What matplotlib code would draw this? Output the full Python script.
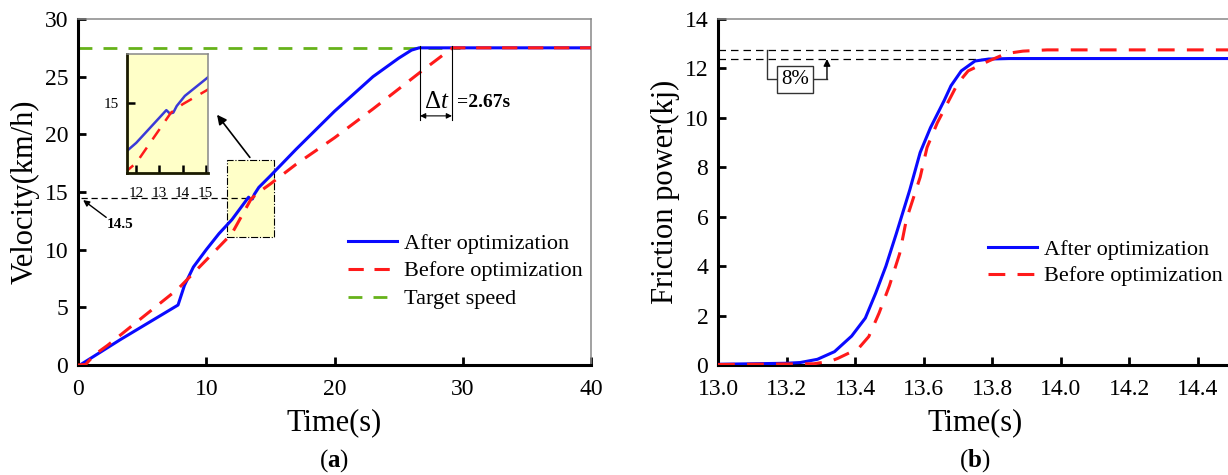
import numpy as np
import matplotlib
matplotlib.use('Agg')
import matplotlib.pyplot as plt
from matplotlib.patches import Rectangle

plt.rcParams['font.family'] = ['Liberation Serif', 'DejaVu Serif']
plt.rcParams['mathtext.fontset'] = 'custom'
plt.rcParams['mathtext.rm'] = 'Liberation Serif'
plt.rcParams['mathtext.it'] = 'Liberation Serif:italic'
plt.rcParams['mathtext.bf'] = 'Liberation Serif:bold'

# (a) velocity
t_after = [0.3, 3.3, 7.8, 8.3, 9.0, 10.0, 11.0, 12.0, 13.0, 13.3, 13.45, 13.6, 13.75,
           14.1, 15.0, 17.0, 20.0, 23.0, 25.0, 26.0, 26.6, 40.0]
v_after = [0.1, 2.2, 5.2, 6.9, 8.5, 10.0, 11.4, 12.6, 14.1, 14.55, 14.35, 14.4, 14.8,
           15.4, 16.4, 18.7, 22.0, 25.0, 26.6, 27.3, 27.5, 27.5]
t_before = [0.0, 0.6, 1.3, 2.3, 7.8, 10.0, 12.0, 13.0, 13.5, 14.0, 15.0, 17.0, 20.0,
            23.0, 26.7, 29.2, 40.0]
v_before = [0.0, 0.05, 0.9, 1.7, 6.6, 9.1, 11.4, 13.4, 14.4, 14.9, 15.7, 17.4, 19.7,
            22.2, 25.4, 27.5, 27.5]
target_speed = 27.5
t_target = [0.0, 29.8]
v_mark = 14.5
dt_left, dt_right = 26.67, 29.16
dt_label = '=2.67s'

# (b) friction power
t2_after = [13.0, 13.2, 13.24, 13.29, 13.34, 13.39, 13.43, 13.46, 13.49, 13.52, 13.56,
            13.59, 13.62, 13.66, 13.68, 13.71, 13.75, 13.79, 13.85, 14.5]
p_after = [0.03, 0.07, 0.1, 0.23, 0.54, 1.17, 1.9, 2.9, 4.0, 5.3, 7.1,
           8.6, 9.6, 10.7, 11.3, 11.9, 12.3, 12.38, 12.4, 12.4]
t2_before = [13.0, 13.28, 13.33, 13.35, 13.41, 13.44, 13.47, 13.50, 13.53, 13.55, 13.59,
             13.61, 13.64, 13.67, 13.70, 13.73, 13.76, 13.79, 13.84, 13.89, 13.96, 14.5]
p_before = [0.02, 0.05, 0.16, 0.27, 0.67, 1.15, 2.1, 3.2, 4.5, 5.9, 7.6,
            8.8, 9.8, 10.6, 11.4, 11.9, 12.1, 12.3, 12.6, 12.7, 12.75, 12.75]
p_hi, p_lo = 12.73, 12.38

BLUE = '#0a0aff'
RED = '#ff1a1a'
GREEN = '#66b21a'
YELLOW = '#ffffc8'

W, H = 1228, 475
fig = plt.figure(figsize=(W / 100, H / 100), dpi=100)


def px(l, t, r, b):
    return [l / W, 1 - b / H, (r - l) / W, (b - t) / H]


def style_axes(ax, lw_main=2.2, tick_size=17):
    for s in ['left', 'bottom']:
        ax.spines[s].set_linewidth(lw_main)
        ax.spines[s].set_color('k')
    for s in ['top', 'right']:
        ax.spines[s].set_linewidth(1.1)
        ax.spines[s].set_color('#888888')
    ax.tick_params(direction='in', length=6, width=2, labelsize=tick_size,
                   top=False, right=False)
    ax.tick_params(axis='x', pad=10)
    ax.tick_params(axis='y', pad=7)


# ---------- panel (a)
ax1 = fig.add_axes(px(78, 19, 591, 365))
ax1.set_xlim(0, 40)
ax1.set_ylim(0, 30)
ax1.set_xticks([0, 10, 20, 30, 40])
ax1.set_yticks([0, 5, 10, 15, 20, 25, 30])
style_axes(ax1)

ax1.add_patch(Rectangle((11.6, 11.1), 3.7, 6.7, facecolor=YELLOW, edgecolor='k',
                        linestyle='-.', lw=0.8, zorder=1))
ax1.plot(t_target, [target_speed] * 2, color=GREEN, lw=2, dashes=(5, 4), zorder=2,
         label='Target speed')
ax1.plot(t_after, v_after, color=BLUE, lw=2.2, zorder=3, label='After optimization')
ax1.plot(t_before, v_before, color=RED, lw=2.2, dashes=(5, 3.5), zorder=4,
         label='Before optimization')

ax1.plot([0.2, 13.6], [v_mark - 0.05] * 2, color='k', lw=0.9, dashes=(5, 3), zorder=2)
ax1.annotate('', xy=(0.4, 14.3), xytext=(2.2, 12.8),
             arrowprops=dict(arrowstyle='-|>', color='k', lw=1, mutation_scale=9,
                             shrinkA=0, shrinkB=0))
ax1.text(3.3, 12.2, str(v_mark), fontsize=11, fontweight='bold', ha='center', va='center')

for x in [dt_left, dt_right]:
    ax1.plot([x, x], [21.2, 27.7], color='k', lw=0.8, zorder=5)
ax1.annotate('', xy=(dt_left, 21.6), xytext=(dt_right, 21.6),
             arrowprops=dict(arrowstyle='<|-|>', color='k', lw=0.8, mutation_scale=8,
                             shrinkA=0, shrinkB=0))
ax1.text(27.95, 22.8, r'$\Delta t$', fontsize=18, ha='center', va='center')
ax1.text(29.55, 22.8, dt_label, fontsize=14, fontweight='bold', ha='left', va='center')

ax1.annotate('', xy=(10.84, 21.7), xytext=(13.4, 18.0),
             arrowprops=dict(arrowstyle='-|>', color='k', lw=1.2, mutation_scale=14,
                             shrinkA=0, shrinkB=0))

ax1.set_xlabel('Time(s)', fontsize=22)
ax1.set_ylabel('Velocity(km/h)', fontsize=22)
ax1.xaxis.set_label_coords(0.5, -0.125)
ax1.yaxis.set_label_coords(-0.075, 0.5)

h, l = ax1.get_legend_handles_labels()
order = [1, 2, 0]
fig.legend([h[i] for i in order], [l[i] for i in order], loc='upper left',
           bbox_to_anchor=(348 / W, 1 - 233 / H), frameon=False, fontsize=16,
           handlelength=2.2, handletextpad=0.3, labelspacing=0.33,
           borderpad=0, borderaxespad=0)

# inset
axi = fig.add_axes(px(127, 54, 208, 173))
axi.set_facecolor(YELLOW)
axi.set_xlim(11.6, 15.1)
axi.set_ylim(10.8, 17.9)
axi.plot(t_after, v_after, color='#3a3ad8', lw=1.8)
axi.plot(t_before, v_before, color=RED, lw=1.8, dashes=(5, 4))
axi.set_xticks([12, 13, 14, 15])
axi.set_yticks([15])
for s in ['left', 'bottom']:
    axi.spines[s].set_linewidth(2)
    axi.spines[s].set_color('#1a1a00')
for s in ['top', 'right']:
    axi.spines[s].set_linewidth(1.1)
    axi.spines[s].set_color('#888888')
axi.tick_params(direction='in', length=6, width=1.8, labelsize=11, top=False, right=False)
axi.tick_params(axis='x', pad=10)
axi.tick_params(axis='y', pad=6)

fig.text(334 / W, 1 - 461 / H, r'($\mathbf{a}$)', fontsize=18, ha='center', va='center')

# ---------- panel (b)
ax2 = fig.add_axes(px(718, 19, 1232, 365))
ax2.set_xlim(13.0, 14.5)
ax2.set_ylim(0, 14)
ax2.set_xticks([13.0, 13.2, 13.4, 13.6, 13.8, 14.0, 14.2, 14.4])
ax2.set_xticklabels(['%.1f' % v for v in ax2.get_xticks()])
ax2.set_yticks([0, 2, 4, 6, 8, 10, 12, 14])
style_axes(ax2)

ax2.plot([13.0, 13.84], [p_hi, p_hi], color='k', lw=0.9, dashes=(6, 4), zorder=2)
ax2.plot([13.0, 13.80], [p_lo, p_lo], color='k', lw=0.9, dashes=(6, 4), zorder=2)
ax2.plot(t2_after, p_after, color=BLUE, lw=2.2, zorder=3, label='After optimization')
ax2.plot(t2_before, p_before, color=RED, lw=2.2, dashes=(5.5, 4), zorder=4,
         label='Before optimization')

ax2.plot([13.142, 13.142, 13.2], [p_hi, 11.58, 11.58], color='#333333', lw=1, zorder=5)
ax2.plot([13.25, 13.318], [11.58, 11.58], color='#333333', lw=1, zorder=5)
ax2.annotate('', xy=(13.318, p_lo), xytext=(13.318, 11.58),
             arrowprops=dict(arrowstyle='-|>', color='k', lw=1, mutation_scale=10,
                             shrinkA=0, shrinkB=0), zorder=5)
ax2.text(13.225, 11.54, '8%', fontsize=15, ha='center', va='center', zorder=6,
         bbox=dict(boxstyle='square,pad=0.2', facecolor='white', edgecolor='#333333', lw=1))

ax2.set_xlabel('Time(s)', fontsize=22)
ax2.set_ylabel('Friction power(kj)', fontsize=22)
ax2.xaxis.set_label_coords(0.5, -0.125)
ax2.yaxis.set_label_coords(-0.074, 0.5)

fig.legend(*ax2.get_legend_handles_labels(), loc='upper left',
           bbox_to_anchor=(988 / W, 1 - 239 / H), frameon=False, fontsize=16,
           handlelength=2.2, handletextpad=0.3, labelspacing=0.28,
           borderpad=0, borderaxespad=0)

fig.text(975 / W, 1 - 461 / H, r'($\mathbf{b}$)', fontsize=18, ha='center', va='center')

fig.savefig('out.png', dpi=100)
